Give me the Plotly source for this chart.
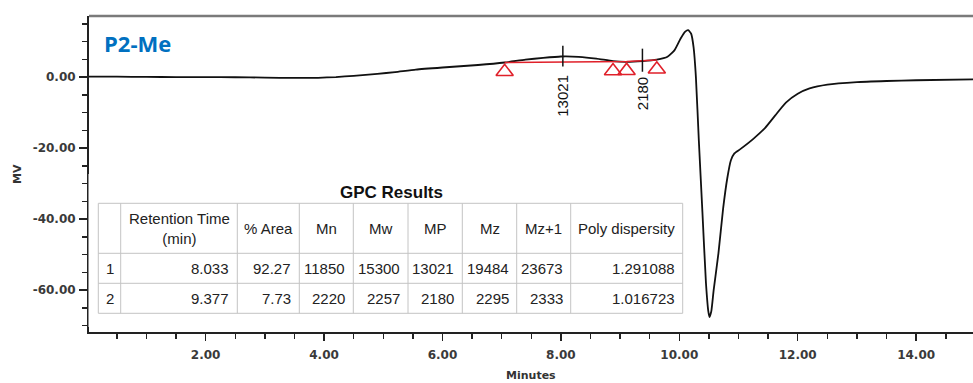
import plotly.graph_objects as go

# ---------------- data ----------------
t_min = [0.03, 0.5, 1.0, 1.5, 2.0, 2.5, 3.0, 3.5, 3.9, 4.2, 4.5, 4.9, 5.2, 5.55, 6.0, 6.6,
         7.05, 7.4, 7.7, 8.0, 8.3, 8.6, 8.88, 9.1, 9.38, 9.62, 9.8, 9.92, 10.02, 10.1,
         10.15, 10.2, 10.24, 10.28, 10.33, 10.39, 10.45, 10.49, 10.51, 10.54, 10.58,
         10.66, 10.74, 10.81, 10.87, 10.93, 11.03, 11.25, 11.45, 11.62, 11.8, 12.0, 12.2,
         12.5, 13.0, 13.5, 14.0, 14.96]
mv = [0.15, 0.1, 0.05, 0.0, 0.0, -0.05, -0.15, -0.25, -0.2, 0.0, 0.35, 0.9, 1.4, 2.1, 2.7, 3.4,
      4.1, 4.9, 5.4, 5.8, 5.7, 5.2, 4.5, 4.3, 4.5, 4.9, 5.7, 7.6, 10.8, 12.8,
      13.2, 12.2, 8.5, 0.0, -18.0, -38.0, -58.0, -66.0, -67.6, -66.0, -60.0,
      -49.7, -37.0, -28.5, -23.5, -21.5, -20.3, -17.4, -14.3, -10.8, -7.2, -4.7, -3.2,
      -2.1, -1.4, -1.1, -0.9, -0.65]

# integration baseline / peak limits
base_t = [7.05, 8.88, 9.11, 9.62]
base_mv = [4.1, 4.3, 4.4, 4.8]

# peak marks
peak_rt = [8.033, 9.377]
peak_mp_label = ["13021", "2180"]
peak_mark_top = [8.8, 8.0]
peak_mark_bottom = [3.0, 1.5]
peak_label_mv = [-5.3, -4.7]

# axis ticks
x_tickvals = [2, 4, 6, 8, 10, 12, 14]
x_ticktext = ["2.00", "4.00", "6.00", "8.00", "10.00", "12.00", "14.00"]
y_tickvals = [0, -20, -40, -60]
y_ticktext = ["0.00", "-20.00", "-40.00", "-60.00"]

# GPC results table
table_header = ["", "Retention Time<br>(min)", "% Area", "Mn", "Mw", "MP", "Mz", "Mz+1", "Poly dispersity"]
row_id = ["1", "2"]
retention_time = [8.033, 9.377]
pct_area = [92.27, 7.73]
mn = [11850, 2220]
mw = [15300, 2257]
mp = [13021, 2180]
mz = [19484, 2295]
mz1 = [23673, 2333]
polydispersity = [1.291088, 1.016723]

# ---------------- layout geometry (pixels) ----------------
W, H = 973, 383
L, R, T, B = 89, 0, 16, 51
PW, PH = W - L - R, H - T - B


def px(xp):
    return (xp - L) / PW


def py(yp):
    return (H - B - yp) / PH


fig = go.Figure()

fig.add_trace(go.Scatter(x=t_min, y=mv, mode="lines",
                         line=dict(color="#111111", width=1.8, shape="spline", smoothing=0.5),
                         hoverinfo="skip"))

fig.add_trace(go.Scatter(x=base_t, y=base_mv, mode="lines",
                         line=dict(color="#e0202a", width=1.5), hoverinfo="skip"))

tri_offset = 2.6
fig.add_trace(go.Scatter(x=base_t, y=[v - tri_offset for v in base_mv], mode="markers",
                         marker=dict(symbol="triangle-up-open", size=15, color="#e0202a",
                                     line=dict(width=1.6, color="#e0202a")),
                         hoverinfo="skip"))

for rt, top, bot in zip(peak_rt, peak_mark_top, peak_mark_bottom):
    fig.add_trace(go.Scatter(x=[rt, rt], y=[bot, top], mode="lines",
                             line=dict(color="#111111", width=1.5), hoverinfo="skip"))

annotations = []
for rt, lab, ly in zip(peak_rt, peak_mp_label, peak_label_mv):
    annotations.append(dict(x=rt, y=ly, xref="x", yref="y", text=lab, textangle=-90,
                            showarrow=False, font=dict(family="Liberation Sans", size=15, color="#111")))

# title label
annotations.append(dict(x=px(102), y=py(43), xref="paper", yref="paper", text="<b>P2-Me</b>",
                        xanchor="left", yanchor="middle", showarrow=False,
                        font=dict(family="Open Sans", size=22, color="#0070C0")))

# axis titles
annotations.append(dict(x=0.5, y=py(375), xref="paper", yref="paper", text="<b>Minutes</b>",
                        xanchor="center", yanchor="middle", showarrow=False,
                        font=dict(family="DejaVu Sans", size=11, color="#333")))
annotations.append(dict(x=px(17), y=py(174), xref="paper", yref="paper", text="<b>MV</b>",
                        textangle=-90, xanchor="center", yanchor="middle", showarrow=False,
                        font=dict(family="DejaVu Sans", size=11, color="#333")))

shapes = []
# grey top frame line
shapes.append(dict(type="line", xref="paper", yref="paper", x0=0, x1=1, y0=1, y1=1,
                   line=dict(color="#7a7a7a", width=2.5)))

# table background (pasted white panel)
shapes.append(dict(type="rect", xref="paper", yref="paper", x0=px(88.5), x1=px(695),
                   y0=py(327), y1=py(174), fillcolor="white", line=dict(width=0), layer="above"))

col_x = [98.3, 120.7, 237.3, 299.3, 353.3, 408.0, 462.3, 516.7, 570.7, 682.7]
row_y = [203.3, 253.3, 283.3, 313.3]
grid_col = "#c4c4c4"
for xv in col_x:
    shapes.append(dict(type="line", xref="paper", yref="paper", x0=px(xv), x1=px(xv),
                       y0=py(row_y[0]), y1=py(row_y[-1]), line=dict(color=grid_col, width=1), layer="above"))
for yv in row_y:
    shapes.append(dict(type="line", xref="paper", yref="paper", x0=px(col_x[0]), x1=px(col_x[-1]),
                       y0=py(yv), y1=py(yv), line=dict(color=grid_col, width=1), layer="above"))

tfont = dict(family="Liberation Sans", size=15, color="#222")
annotations.append(dict(x=px(391), y=py(192), xref="paper", yref="paper", text="<b>GPC Results</b>",
                        xanchor="center", yanchor="middle", showarrow=False,
                        font=dict(family="Liberation Sans", size=17, color="#111")))
for i, htxt in enumerate(table_header):
    if not htxt:
        continue
    cx = (col_x[i] + col_x[i + 1]) / 2
    annotations.append(dict(x=px(cx), y=py((row_y[0] + row_y[1]) / 2), xref="paper", yref="paper",
                            text=htxt, xanchor="center", yanchor="middle", showarrow=False, font=tfont))

rows = []
for k in range(len(row_id)):
    rows.append([row_id[k], f"{retention_time[k]:.3f}", f"{pct_area[k]:.2f}", f"{mn[k]}", f"{mw[k]}",
                 f"{mp[k]}", f"{mz[k]}", f"{mz1[k]}", f"{polydispersity[k]:.6f}"])
for r, vals in enumerate(rows):
    cy = (row_y[r + 1] + row_y[r + 2]) / 2
    for i, val in enumerate(vals):
        if i == 0:
            annotations.append(dict(x=px((col_x[0] + col_x[1]) / 2), y=py(cy), xref="paper", yref="paper",
                                    text=val, xanchor="center", yanchor="middle", showarrow=False, font=tfont))
        else:
            annotations.append(dict(x=px(col_x[i + 1] - 6), y=py(cy), xref="paper", yref="paper",
                                    text=val, xanchor="right", yanchor="middle", showarrow=False, font=tfont))

tickfont = dict(family="DejaVu Sans", size=12, color="#3a3a3a", weight="bold")

fig.update_layout(
    width=W, height=H,
    margin=dict(l=L, r=R, t=T, b=B, pad=0),
    paper_bgcolor="white", plot_bgcolor="white",
    showlegend=False,
    xaxis=dict(range=[0.03, 14.96], tickvals=x_tickvals, ticktext=x_ticktext,
               showgrid=False, zeroline=False, showline=True, linecolor="#222", linewidth=2,
               ticks="outside", ticklen=7, tickwidth=1.5, tickcolor="#222",
               minor=dict(dtick=0.5, tick0=0, ticks="outside", ticklen=5, tickwidth=1.5, tickcolor="#222"),
               tickfont=tickfont, ticklabelstandoff=4),
    yaxis=dict(range=[-71.8, 17.2], tickvals=y_tickvals, ticktext=y_ticktext,
               showgrid=False, zeroline=False, showline=True, linecolor="#222", linewidth=2,
               ticks="outside", ticklen=8, tickwidth=1.5, tickcolor="#222",
               minor=dict(dtick=5, tick0=0, ticks="outside", ticklen=5, tickwidth=1.5, tickcolor="#222"),
               tickfont=tickfont, ticklabelstandoff=1),
    annotations=annotations,
    shapes=shapes,
)

fig.write_html("out.html", config={"displayModeBar": False, "staticPlot": True},
               post_script="document.body.style.margin='0';document.body.style.overflow='hidden';")
